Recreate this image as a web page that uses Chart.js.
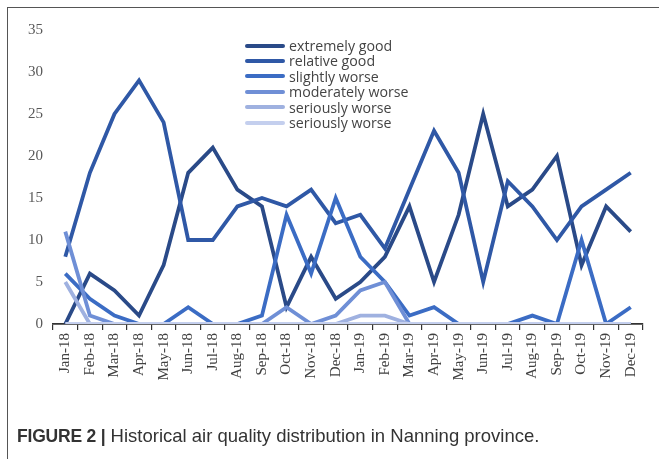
<!DOCTYPE html>
<html lang="en">
<head>
  <meta charset="UTF-8">
  <title>Figure 2 - Nanning air quality</title>
  <script src="https://cdn.jsdelivr.net/npm/chart.js"></script>
  <style>
    body {
      margin: 0;
      background: #fff;
      width: 659px;
      height: 459px;
      overflow: hidden;
      position: relative;
    }

    .frame {
      position: absolute;
      left: 7px;
      top: 7px;
      width: 660px;
      height: 460px;
      border-top: 1.5px solid #555;
      border-left: 1.5px solid #555;
    }

    #chart {
      position: absolute;
      left: 0;
      top: 0;
    }

    .legend {
      position: absolute;
      left: 245px;
      top: 38px;
      font-family: 'Open Sans', sans-serif;
      font-size: 14.2px;
      color: #444;
      line-height: 15.4px;
    }

    .legend .item {
      display: flex;
      align-items: center;
      height: 15.4px;
    }

    .legend .swatch {
      width: 40px;
      height: 4px;
      border-radius: 2px;
      margin-right: 4px;
    }

    .caption {
      position: absolute;
      left: 17px;
      top: 425px;
      font-family: 'Liberation Sans', Arial, sans-serif;
      font-size: 18.5px;
      color: #333;
    }
    .caption b {
      font-size: 17.5px;
      letter-spacing: -0.2px;
    }
  </style>
</head>
<body>

  <div class="frame"></div>
  <canvas id="chart" width="659" height="459"></canvas>
  <div class="legend" id="legend"></div>
  <div class="caption"><b>FIGURE 2 |</b> Historical air quality distribution in Nanning province.</div>

  <script>
    const months = ['Jan-18', 'Feb-18', 'Mar-18', 'Apr-18', 'May-18', 'Jun-18', 'Jul-18', 'Aug-18',
      'Sep-18', 'Oct-18', 'Nov-18', 'Dec-18', 'Jan-19', 'Feb-19', 'Mar-19', 'Apr-19', 'May-19',
      'Jun-19', 'Jul-19', 'Aug-19', 'Sep-19', 'Oct-19', 'Nov-19', 'Dec-19'];

    const extremelyGood   = [0, 6, 4, 1, 7, 18, 21, 16, 14, 2, 8, 3, 5, 8, 14, 5, 13, 25, 14, 16, 20, 7, 14, 11];
    const relativeGood    = [8, 18, 25, 29, 24, 10, 10, 14, 15, 14, 16, 12, 13, 9, 16, 23, 18, 5, 17, 14, 10, 14, 16, 18];
    const slightlyWorse   = [6, 3, 1, 0, 0, 2, 0, 0, 1, 13, 6, 15, 8, 5, 1, 2, 0, 0, 0, 1, 0, 10, 0, 2];
    const moderatelyWorse = [11, 1, 0, 0, 0, 0, 0, 0, 0, 2, 0, 1, 4, 5, 0, 0, 0, 0, 0, 0, 0, 0, 0, 0];
    const seriouslyWorse  = [5, 0, 0, 0, 0, 0, 0, 0, 0, 0, 0, 0, 1, 1, 0, 0, 0, 0, 0, 0, 0, 0, 0, 0];
    const seriouslyWorse2 = [0, 0, 0, 0, 0, 0, 0, 0, 0, 0, 0, 0, 0, 0, 0, 0, 0, 0, 0, 0, 0, 0, 0, 0];

    const seriesNames = ['extremely good', 'relative good', 'slightly worse',
      'moderately worse', 'seriously worse', 'seriously worse'];
    const seriesData = [extremelyGood, relativeGood, slightlyWorse,
      moderatelyWorse, seriouslyWorse, seriouslyWorse2];
    const colors = ['#2a4a88', '#2f58a6', '#3b6cc4', '#6f8fd6', '#9fb1e0', '#c4cfee'];

    const yTicks = [0, 5, 10, 15, 20, 25, 30, 35];

    // legend drawn as html, inside the plot like the original
    const legendEl = document.getElementById('legend');
    seriesNames.forEach((name, i) => {
      const row = document.createElement('div');
      row.className = 'item';
      row.innerHTML = `<span class="swatch" style="background:${colors[i]}"></span>${name}`;
      legendEl.appendChild(row);
    });

    const ctx = document.getElementById('chart').getContext('2d');
    new Chart(ctx, {
      type: 'line',
      data: {
        labels: months,
        datasets: seriesData.map((d, i) => ({
          label: seriesNames[i],
          data: d,
          borderColor: colors[i],
          backgroundColor: colors[i],
          borderWidth: 3.8,
          pointRadius: 0,
          tension: 0,
          order: seriesData.length - i  // later series on top, like excel
        }))
      },
      options: {
        responsive: false,
        animation: false,
        layout: { padding: { left: 0, top: 30, right: 16, bottom: 40 } },
        plugins: {
          legend: { display: false },
          tooltip: { enabled: false }
        },
        scales: {
          x: {
            offset: true,
            grid: {
              offset: true,
              drawOnChartArea: false,
              drawTicks: true,
              tickLength: 6,
              color: '#333',
              lineWidth: 1.2
            },
            border: { display: true, color: '#333', width: 1.8 },
            ticks: {
              minRotation: 90,
              maxRotation: 90,
              autoSkip: false,
              padding: 3,
              color: '#404040',
              font: { family: "'Liberation Serif', 'Times New Roman', serif", size: 15 }
            },
            afterFit(scale) { scale.height = 95; }
          },
          y: {
            min: 0,
            max: 35,
            afterBuildTicks(scale) { scale.ticks = yTicks.map(v => ({ value: v })); },
            grid: { display: false, drawTicks: false },
            border: { display: false },
            ticks: {
              padding: 10,
              color: '#595959',
              font: { family: "'Liberation Serif', 'Times New Roman', serif", size: 15 }
            },
            afterFit(scale) { scale.width = 53; }
          }
        }
      }
    });
  </script>

</body>
</html>
